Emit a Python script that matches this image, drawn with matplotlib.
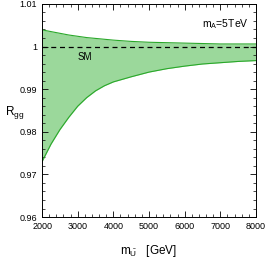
import matplotlib.pyplot as plt
from matplotlib.ticker import MultipleLocator

plt.rcParams['font.family'] = ['Liberation Sans', 'DejaVu Sans']
plt.rcParams['mathtext.fontset'] = 'custom'
plt.rcParams['mathtext.rm'] = 'Liberation Sans'
plt.rcParams['mathtext.it'] = 'Liberation Sans'

# band
mass = [2000, 2250, 2500, 2750, 3000, 3250, 3500, 3750, 4000, 4500, 5000,
        5500, 6000, 6500, 7000, 7500, 8000]
upper = [1.0039, 1.0035, 1.0031, 1.0027, 1.0024, 1.0021, 1.0019, 1.0017, 1.0015,
         1.0012, 1.0010, 1.0009, 1.0008, 1.0007, 1.0006, 1.0006, 1.0006]
lower = [0.9730, 0.9771, 0.9805, 0.9834, 0.9860, 0.9880, 0.9896, 0.9908, 0.9917,
         0.9929, 0.9940, 0.9948, 0.9954, 0.9959, 0.9962, 0.9965, 0.9967]

fig = plt.figure(figsize=(2.68, 2.59), dpi=100)
ax = fig.add_axes([0.157, 0.162, 0.798, 0.823])

ax.fill_between(mass, lower, upper, color='#9bd89b', lw=0)
ax.plot(mass, upper, color='#2aa82a', lw=0.8)
ax.plot(mass, lower, color='#2aa82a', lw=0.8)
ax.axhline(1.0, color='black', lw=0.9, ls=(0, (4, 3)))

ax.text(3200, 0.9975, 'SM', fontsize=7, ha='center', va='center')
ax.text(7800, 1.0053, r'm$_\mathrm{A}$=5TeV', fontsize=7.5, ha='right', va='center')

ax.set_xlim(2000, 8000)
ax.set_ylim(0.96, 1.01)
ax.set_xticks([2000, 3000, 4000, 5000, 6000, 7000, 8000])
ax.set_yticks([0.96, 0.97, 0.98, 0.99, 1.0, 1.01])
ax.set_yticklabels(['0.96', '0.97', '0.98', '0.99', '1', '1.01'])
ax.xaxis.set_minor_locator(MultipleLocator(200))
ax.yaxis.set_minor_locator(MultipleLocator(0.002))
ax.tick_params(which='both', direction='in', top=True, right=True, labelsize=6.5)
ax.tick_params(which='major', length=4, width=0.6)
ax.tick_params(which='minor', length=2, width=0.5)
for s in ax.spines.values():
    s.set_linewidth(0.7)

ax.set_xlabel(r'm$_{\tilde{\mathrm{U}}}$   [GeV]', fontsize=8.5, labelpad=9)
ax.set_ylabel(r'R$_\mathrm{gg}$', fontsize=8.5, rotation=0, labelpad=10)
ax.yaxis.set_label_coords(-0.13, 0.45)

fig.savefig('out.png', dpi=100)
